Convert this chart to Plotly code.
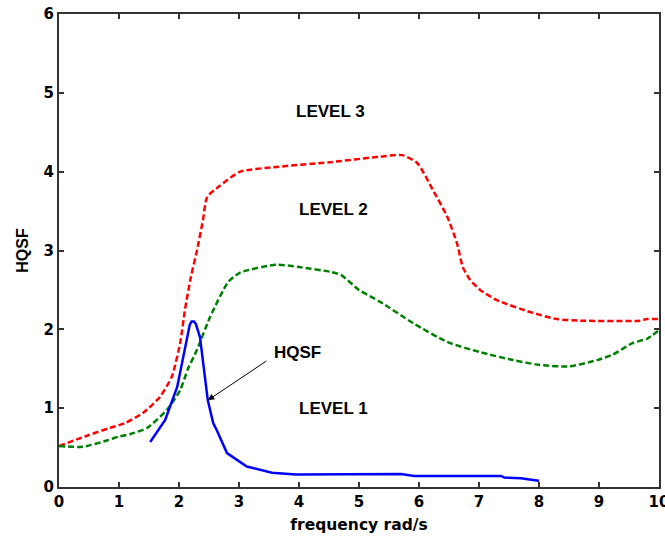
import plotly.graph_objects as go

# Level boundary curves and the HQSF response (frequency in rad/s)
red_x = [0, 0.5, 0.85, 1.1, 1.4, 1.68, 1.88, 2.02, 2.1, 2.2, 2.3, 2.40, 2.47, 2.68, 3.02, 3.63, 4.52, 5.35, 5.72, 5.97, 6.23, 6.47, 6.63, 6.73, 6.85, 7.02, 7.3, 7.85, 8.3, 8.68, 9.68, 9.8, 10.0]
red_y = [0.52, 0.66, 0.75, 0.81, 0.94, 1.14, 1.40, 1.83, 2.25, 2.67, 3.00, 3.39, 3.68, 3.82, 4.00, 4.06, 4.12, 4.19, 4.21, 4.11, 3.77, 3.43, 3.10, 2.79, 2.63, 2.50, 2.37, 2.22, 2.13, 2.11, 2.11, 2.13, 2.13]

green_x = [0, 0.4, 0.8, 1.0, 1.18, 1.47, 1.8, 2.02, 2.15, 2.3, 2.52, 2.82, 3.02, 3.63, 4.0, 4.52, 4.7, 5.0, 5.35, 5.9, 6.47, 7.02, 7.57, 8.0, 8.5, 8.97, 9.23, 9.57, 9.8, 10.0]
green_y = [0.52, 0.51, 0.59, 0.64, 0.67, 0.75, 0.98, 1.23, 1.50, 1.74, 2.16, 2.60, 2.72, 2.82, 2.79, 2.73, 2.69, 2.50, 2.35, 2.08, 1.84, 1.71, 1.61, 1.55, 1.53, 1.61, 1.68, 1.83, 1.88, 1.99]

hqsf_x = [1.52, 1.77, 1.97, 2.10, 2.18, 2.21, 2.25, 2.28, 2.35, 2.48, 2.57, 2.63, 2.8, 3.13, 3.55, 3.95, 4.8, 5.7, 5.92, 7.37, 7.42, 7.7, 7.9, 8.0]
hqsf_y = [0.57, 0.85, 1.27, 1.74, 2.06, 2.10, 2.10, 2.07, 1.90, 1.10, 0.81, 0.72, 0.43, 0.26, 0.18, 0.16, 0.16, 0.165, 0.14, 0.14, 0.12, 0.11, 0.09, 0.08]

x_ticks = [0, 1, 2, 3, 4, 5, 6, 7, 8, 9, 10]
y_ticks = [0, 1, 2, 3, 4, 5, 6]

region_labels = ["LEVEL 3", "LEVEL 2", "LEVEL 1"]
region_x = [4.52, 4.57, 4.57]
region_y = [4.76, 3.52, 1.0]

fig = go.Figure()
fig.add_trace(go.Scatter(x=red_x, y=red_y, mode="lines",
                         line=dict(color="#ff0000", width=2.5, dash="6px,3px",
                                   shape="spline", smoothing=0.6)))
fig.add_trace(go.Scatter(x=green_x, y=green_y, mode="lines",
                         line=dict(color="#008000", width=2.5, dash="6px,3px",
                                   shape="spline", smoothing=0.6)))
fig.add_trace(go.Scatter(x=hqsf_x, y=hqsf_y, mode="lines",
                         line=dict(color="#0000ff", width=2.5)))

label_font = dict(family="Liberation Sans, Arial, sans-serif", size=17, color="black")
for txt, lx, ly in zip(region_labels, region_x, region_y):
    fig.add_annotation(x=lx, y=ly, text="<b>%s</b>" % txt, showarrow=False, font=label_font)

# Pointer from the HQSF label to the response curve
fig.add_annotation(x=2.48, y=1.10, ax=3.48, ay=1.61, axref="x", ayref="y",
                   text="", showarrow=True, arrowhead=2, arrowsize=1.3,
                   arrowwidth=1, arrowcolor="black")
fig.add_annotation(x=3.98, y=1.70, text="<b>HQSF</b>", showarrow=False, font=label_font)

axis_common = dict(
    showgrid=False, zeroline=False, showline=True, linecolor="#333333", linewidth=2,
    mirror="ticks", ticks="inside", ticklen=5, tickwidth=2, tickcolor="#333333",
    ticklabeloverflow="allow", automargin=False,
    tickfont=dict(family="DejaVu Sans, sans-serif", size=15, color="black", weight="bold"),
)

fig.update_layout(
    width=665, height=537,
    margin=dict(l=59, r=6, t=14, b=50),
    paper_bgcolor="white", plot_bgcolor="white",
    showlegend=False,
    xaxis=dict(range=[0, 10], tickvals=x_ticks,
               title=dict(text="<b>frequency rad/s</b>", standoff=9,
                          font=dict(family="DejaVu Sans, sans-serif", size=15.5, color="black")),
               **axis_common),
    yaxis=dict(range=[0, 6], tickvals=y_ticks,
               title=dict(text="<b>HQSF</b>", standoff=11,
                          font=dict(family="Liberation Sans, Arial, sans-serif", size=16, color="black")),
               **axis_common),
)

fig.write_html("out.html")
